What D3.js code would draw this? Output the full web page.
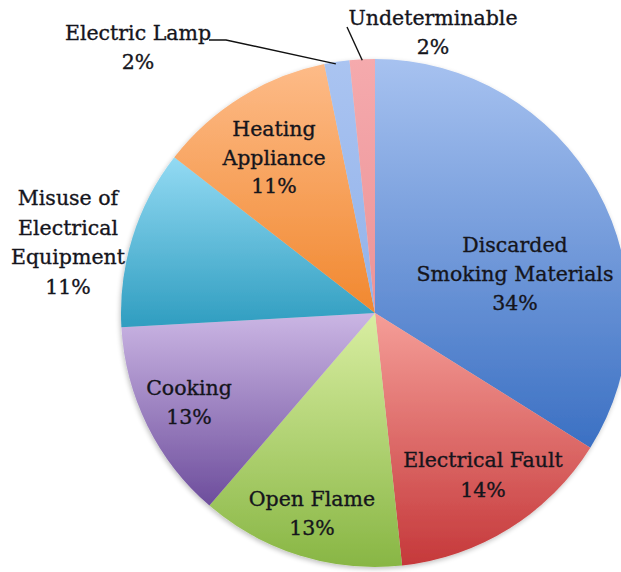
<!DOCTYPE html>
<html><head><meta charset="utf-8">
<script src="https://cdn.jsdelivr.net/npm/d3@7"></script>
<style>html,body{margin:0;padding:0;background:#fff;}svg{display:block;}</style>
</head><body>
<svg id="chart" width="621" height="572"></svg>
<script>
const categories = ["Discarded Smoking Materials","Electrical Fault","Open Flame","Cooking","Misuse of Electrical Equipment","Heating Appliance","Electric Lamp","Undeterminable"];
const values = [33.9, 14.4, 13.0, 12.8, 11.4, 11.3, 1.6, 1.6];
const pctLabels = ["34%","14%","13%","13%","11%","11%","2%","2%"];
const labelLines = [["Discarded","Smoking Materials"],["Electrical Fault"],["Open Flame"],["Cooking"],["Misuse of","Electrical","Equipment"],["Heating","Appliance"],["Electric Lamp"],["Undeterminable"]];
const topColors = ["#a7c2f0","#f59e98","#d9eea2","#cbb6e4","#93daf3","#fdbb88","#aac4f1","#f5aaad"];
const bottomColors = ["#3b70c3","#c5383a","#88b644","#6d4d9c","#2f9dc0","#f1882f","#92b2ea","#ec9397"];

const svg = d3.select("#chart");
const cx = 375, cy = 313, R = 254;
const defs = svg.append("defs");
topColors.forEach((c,i)=>{
  const g = defs.append("linearGradient").attr("id","g"+i).attr("x1",0).attr("y1",0).attr("x2",0).attr("y2",1);
  g.append("stop").attr("offset","0%").attr("stop-color",c);
  g.append("stop").attr("offset","100%").attr("stop-color",bottomColors[i]);
});
const f = defs.append("filter").attr("id","sh").attr("x","-10%").attr("y","-10%").attr("width","120%").attr("height","120%");
f.append("feGaussianBlur").attr("in","SourceAlpha").attr("stdDeviation",2.5);
f.append("feOffset").attr("dx",-1).attr("dy",2).attr("result","b");
f.append("feComponentTransfer").append("feFuncA").attr("type","linear").attr("slope",0.25);
const m = f.append("feMerge"); m.append("feMergeNode"); m.append("feMergeNode").attr("in","SourceGraphic");

const pie = d3.pie().sort(null).value(d=>d);
const arcs = pie(values);
const arc = d3.arc().innerRadius(0).outerRadius(R);
const g = svg.append("g").attr("transform",`translate(${cx},${cy})`).attr("filter","url(#sh)");
g.selectAll("path").data(arcs).join("path").attr("d",arc).attr("fill",(d,i)=>`url(#g${i})`);

// label positions (centre of text block, first-line centre y)
const labelPos = [[515,245],[483,460],[312,499],[189,388],[68,198],[274,129],[138,33],[433,18]];
const lh = [29,30,29,29,29.5,28.5,29,29];
const font = "'DejaVu Serif', serif";
categories.forEach((c,i)=>{
  const lines = labelLines[i].concat([pctLabels[i]]);
  const t = svg.append("text").attr("text-anchor","middle").attr("font-family",font).attr("font-size",20.5)
    .attr("fill","#15151c").attr("stroke","#15151c").attr("stroke-width",0.35);
  lines.forEach((ln,k)=>{
    t.append("tspan").attr("x",labelPos[i][0]).attr("y",labelPos[i][1]+k*lh[i]).attr("dy","0.35em").text(ln);
  });
});
// leader lines
const lampEnd = d3.pointRadial((arcs[6].startAngle+arcs[6].endAngle)/2, R);
const undEnd = d3.pointRadial((arcs[7].startAngle+arcs[7].endAngle)/2, R);
svg.append("path").attr("fill","none").attr("stroke","#111").attr("stroke-width",1.4)
  .attr("d",`M209,40L226,40L${cx+lampEnd[0]-1},${cy+lampEnd[1]+2}`);
svg.append("path").attr("fill","none").attr("stroke","#111").attr("stroke-width",1.4)
  .attr("d",`M347,27L${cx+undEnd[0]},${cy+undEnd[1]+1}`);
</script>
</body></html>
